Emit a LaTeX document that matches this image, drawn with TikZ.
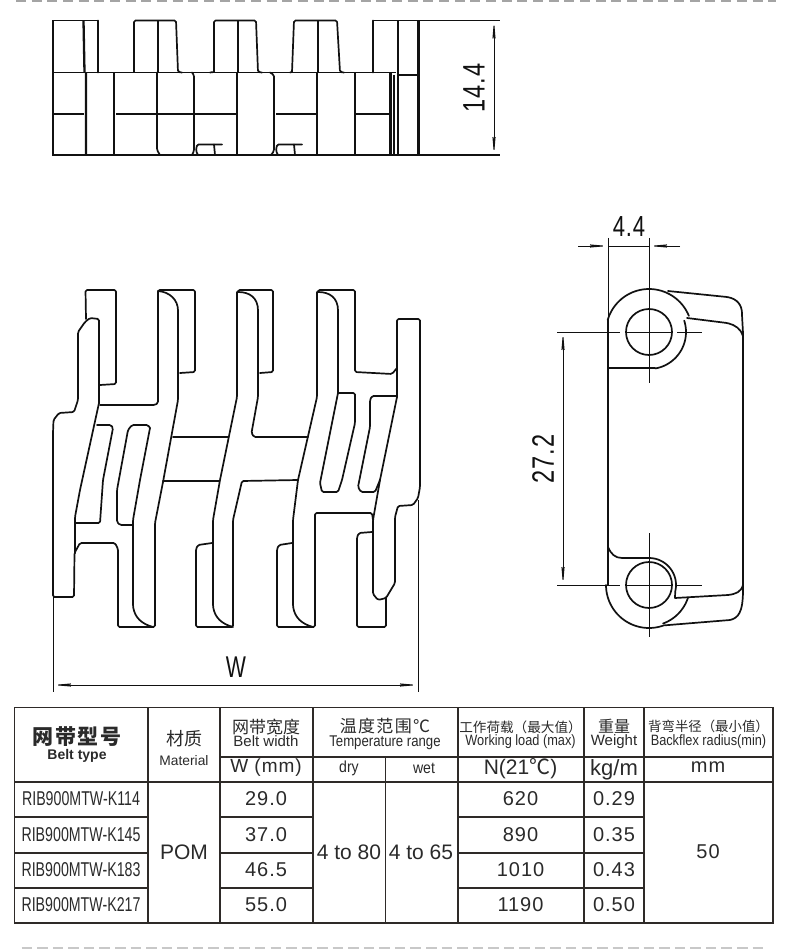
\documentclass[tikz,border=0pt]{standalone}
\usepackage{fontspec}
\usetikzlibrary{arrows.meta}
\setmainfont{Liberation Sans}
\newfontfamily\cn{Noto Sans CJK SC}
\newfontfamily\cnsp[LetterSpace=8]{Noto Sans CJK SC}
\newfontfamily\spc[LetterSpace=5]{Liberation Sans}
\newfontfamily\condA[FakeStretch=0.71]{Liberation Sans}
\newfontfamily\condB[FakeStretch=0.85]{Liberation Sans}
\newfontfamily\condC[FakeStretch=0.88]{Liberation Sans}
\newfontfamily\condD[FakeStretch=0.76,LetterSpace=3]{Liberation Sans}
\newcommand{\fs}[1]{\fontsize{#1}{#1}\selectfont}
\definecolor{ink}{HTML}{111111}
\definecolor{tabline}{HTML}{2E2A28}
\definecolor{txt}{HTML}{2A2A2A}
\definecolor{dashc}{HTML}{A4A4A4}
\definecolor{dashd}{HTML}{C8C8C8}
\tikzset{
  part/.style={draw=ink,line width=1.7pt,line join=round,line cap=round,rounded corners=1.5pt},
  heavy/.style={draw=ink,line width=2.3pt},
  thinl/.style={draw=ink,line width=1.3pt},
  dimline/.style={draw=ink,line width=0.9pt},
  dimarrow/.style={draw=ink,line width=0.9pt,-{Stealth[length=23pt,width=4pt]}},
  dimtext/.style={text=ink,inner sep=0pt,font=\condD\fs{31}},
  grid/.style={draw=tabline,line width=1.6pt},
  cell/.style={text=txt,inner sep=0pt,anchor=center,align=center},
  guide/.style={draw=dashc,line width=2.8pt,dash pattern=on 10pt off 5.67pt},
  guidelow/.style={draw=dashd,line width=1.6pt,dash pattern=on 10.5pt off 5.05pt},
}
\begin{document}
\begin{tikzpicture}[x=1pt,y=-1pt]
\useasboundingbox (0,0) rectangle (790,949);
\fill[white] (0,0) rectangle (790,949);
% guides
\draw[guide] (16,1) -- (776,1);
\draw[guidelow] (21.7,948) -- (764,948);

% ---------- top view
\draw[thinl] (53,20.5) -- (98,20.5) (53,20.5) -- (53,155) -- (500,155);
\draw[thinl] (373,20.5) -- (500,20.5);
\draw[thinl] (53,72.5) -- (396,72.5) (398,75) -- (418,75);
\draw[thinl] (53,114) -- (84,114) (116,114) -- (237,114) (276,114) -- (316,114) (356,114) -- (390,114);
\draw[part] (98,20.5) -- (98,72.5);
\draw[part] (134,72) -- (134,20.5) -- (176,20.5) -- (178,72) -- (182,72.5);
\draw[part] (214,72) -- (214,20.5) -- (256,20.5) -- (258,72) -- (262,72.5);
\draw[part] (292,72) -- (294,20.5) -- (337,20.5) -- (340,72) -- (344,72.5);
\draw[part] (210,72.5) -- (214,72);
\draw[part] (290,72.5) -- (292,72);
\draw[part] (373,20.5) -- (373,72.5);
\draw[heavy] (83.5,20.5) -- (84.5,72.5) (86,72.5) -- (86,155);
\draw[heavy] (158,20.5) -- (158,72.5) (238,20.5) -- (238,72.5) (318,20.5) -- (318,72.5);
\draw[heavy] (114,72.5) -- (114,155);
\draw[part] (157,72.5) -- (157,150) -- (160,155);
\draw[part] (192,72.5) -- (194,75) -- (194,151) -- (192,155);
\draw[part] (198,155) -- (196,151) -- (197,144.5) -- (222,144.5);
\draw[part] (214,144.5) -- (215,155);
\draw[thinl] (237,72.5) -- (237,155);
\draw[part] (270,72.5) -- (274,75) -- (274,151) -- (271,155);
\draw[part] (278,155) -- (276,151) -- (277,144.5) -- (302,144.5);
\draw[part] (294,144.5) -- (295,155);
\draw[thinl] (317,72.5) -- (317,155);
\draw[heavy] (355,72.5) -- (355,155);
\draw[heavy] (390.5,72.5) -- (390.5,155);
\draw[thinl] (394,75) -- (394,155);
\draw[heavy] (398,20.5) -- (398,155);
\draw[heavy] (418.5,20.5) -- (418.5,155);
\coordinate (dT) at (494,20.5); \coordinate (dB) at (494,155); \coordinate (dM) at (494,88);
\draw[dimarrow] (dM) -- (dT);
\draw[dimarrow] (dM) -- (dB);
\node[dimtext,rotate=90] (t144) at (474,88) {14.4};

% ---------- front view
\draw[part] (86,319) -- (85.5,290) -- (116,290) -- (116,384) -- (100,385);
\draw[part] (99,403) -- (99,319) -- (90,318) -- (85,322) -- (78,332) -- (78,400) -- (74,412) -- (59,413) -- (53.5,420) -- (53,433) -- (53,597) -- (74,597) -- (74.5,553) -- (80,543) -- (115,543) -- (118,549) -- (118,627) -- (155,627) -- (155,523) -- (163,482) -- (178,400) -- (178,312)
  .. controls (178,300) and (170,292) .. (158,291);
\draw[part] (99,403) -- (80,490) -- (75,517) -- (75,553);
\draw[part] (75,523) -- (100,523) -- (103,480) -- (113,428) -- (111,425) -- (97,425);
\draw[part] (150,428) -- (148,425) -- (132,425) -- (128,430) -- (117,490) -- (117,522) -- (120,525) -- (132,525);
\draw[part] (150,428) -- (140,480) -- (133,520) -- (133,606) .. controls (135,618) and (142,624) .. (153,627);
\draw[part] (158,292) -- (158,403) -- (155,405) -- (100,405);
\draw[part] (158,291) -- (158,290) -- (195,290) -- (195,372) -- (180,373);
\draw[part] (173,437) -- (228,437);
\draw[part] (163,481) -- (219,481);
% middle bodies
\draw[part] (237,292) -- (237,397) -- (220,480) -- (213,520) -- (213,606) .. controls (215,618) and (222,624) .. (233,627);
\draw[part] (212,543) -- (198,545) -- (196,549) -- (196,627) -- (233,627) -- (233,520) -- (242,481) -- (298,480);
\draw[part] (238,291) -- (238,290) -- (273,290) -- (273,372) -- (260,373);
\draw[part] (238,292) .. controls (250,292) and (258,298) .. (258,312) -- (258,397) -- (251.5,433) -- (254,437) -- (308,437);
\draw[part] (317,292) -- (317,397) -- (298,480) -- (293,520) -- (293,606) .. controls (295,618) and (302,624) .. (313,627);
\draw[part] (292,543) -- (279,545) -- (277,549) -- (277,627) -- (315,627) -- (315,513) -- (372,513) -- (373,520);
\draw[part] (318,291) -- (318,290) -- (355,290) -- (355,372) -- (392,374) -- (397,368);
\draw[part] (318,292) .. controls (330,292) and (338,298) .. (338,312) -- (338,393);
\draw[part] (338,393) -- (320,483) -- (322,492) -- (338,492) -- (342,480) -- (355,423) -- (355,393) -- (338,393);
\draw[part] (396,396) -- (372,396) -- (370,400) -- (370,427) -- (358,487) -- (361,492) -- (375,492) -- (380,480) -- (397,397);
\draw[part] (397,397) -- (397,319) -- (420,319) -- (420,487) -- (418,498) -- (413,505) -- (398,506) -- (395,517) -- (395,583) -- (386,598) -- (378,600) -- (373,594) -- (373,520) -- (380,480);
\draw[part] (372,532) -- (359,533) -- (357,537) -- (357,627) -- (386,627) -- (386,598);
\coordinate (wL) at (53,685); \coordinate (wR) at (418,685); \coordinate (wM) at (236,685);
\draw[dimline] (53,597) -- (53,692) (418.5,500) -- (418.5,692);
\draw[dimarrow] (wM) -- (wL);
\draw[dimarrow] (wM) -- (wR);
\node[text=ink,inner sep=0pt,font=\condA\fs{30}] (tw) at (236,667) {W};

% ---------- side view
\draw[dimline] (649,238) -- (649,383) (649,533) -- (649,637);
\draw[dimline] (557,332) -- (620,332) (626,332) -- (672,332) (677,332) -- (702,332);
\draw[dimline] (557,585) -- (620,585) (626,585) -- (672,585) (677,585) -- (702,585);
\draw[dimline] (608,238) -- (608,320);
\draw[part,rounded corners=0pt] (649,332) circle[radius=23];
\draw[part,rounded corners=0pt] (649,585) circle[radius=23];
\draw[part,rounded corners=0pt] plot[domain=196:338,samples=40] ({649+43*cos(\x)},{332+43*sin(\x)});
\draw[part,rounded corners=0pt] (608,368) -- (655,368) -- plot[domain=80:-18,samples=30] ({649+37*cos(\x)},{332+37*sin(\x)});
\draw[part] (668,291) -- (727,297) .. controls (737,299) and (742,305) .. (742,315) -- (743,333);
\draw[part] (687,318) -- (727,323) .. controls (735,325) and (741,329) .. (743,336);
\draw[heavy] (608,320) -- (608,585);
\draw[heavy] (743,333) -- (743,590);
\draw[part,rounded corners=0pt] plot[domain=180:70,samples=40] ({649+43*cos(\x)},{585+43*sin(\x)}) -- (730,620) .. controls (738,618) and (743,613) .. (743,590);
\draw[part,rounded corners=0pt] plot[domain=70:18,samples=20] ({649+41*cos(\x)},{585+41*sin(\x)});
\draw[part,rounded corners=0pt] (608,547) .. controls (611,554) and (615,558) .. (622,558) -- (649,558) -- plot[domain=-90:14,samples=30] ({649+27*cos(\x)},{585+27*sin(\x)}) -- (675,598) -- (728,595) .. controls (736,594) and (741,592) .. (743,585);
\coordinate (a1) at (608,246); \coordinate (a2) at (649,246);
\coordinate (a1o) at (578,246); \coordinate (a2o) at (680,246);
\draw[dimline] (a1) -- (a2);
\draw[dimarrow] (a1o) -- (a1);
\draw[dimarrow] (a2o) -- (a2);
\node[dimtext,font=\condD\fs{29}] (t44) at (629,227) {4.4};
\coordinate (b1) at (563,332); \coordinate (b2) at (563,585); \coordinate (bm) at (563,459);
\draw[dimarrow] (bm) -- (b1);
\draw[dimarrow] (bm) -- (b2);
\node[dimtext,rotate=90] (t272) at (543,459) {27.2};

% ---------- table
\draw[grid] (14.5,707.5) rectangle (773,923);
\foreach \xx in {148,220,313,457.7,583.7,644} \draw[grid] (\xx,707.5) -- (\xx,923);
\draw[grid] (385.6,757) -- (385.6,923);
\draw[grid] (220,757) -- (773,757);
\draw[grid] (14.5,781.7) -- (773,781.7);
\foreach \yy in {816.7,852.7,887.7} {
  \draw[grid] (14.5,\yy) -- (148,\yy);
  \draw[grid] (220,\yy) -- (313,\yy);
  \draw[grid] (457.7,\yy) -- (644,\yy);
}
% header
\node[cell,font=\cnsp\bfseries\fs{21}] (h1) at (77,737) {网带型号};
\node[cell,font=\bfseries\fs{14}] (h1e) at (77,755.5) {Belt type};
\node[cell,font=\cn\fs{18}] (h2) at (184,739) {材质};
\node[cell,font=\fs{13.8}] (h2e) at (184,761) {Material};
\node[cell,font=\cn\fs{17}] (h3) at (266,727) {网带宽度};
\node[cell,font=\fs{15}] (h3e) at (266,741) {Belt width};
\node[cell,font=\spc\fs{19}] (h3u) at (266,768) {W (mm)};
\node[cell,font=\cnsp\fs{17}] (h4) at (385,726) {温度范围℃};
\node[cell,font=\condB\fs{15.5}] (h4e) at (385,743) {Temperature range};
\node[cell,font=\condC\fs{16}] (h4a) at (349,768) {dry};
\node[cell,font=\condC\fs{16}] (h4b) at (424,768) {wet};
\node[cell,font=\cn\fs{13.6}] (h5) at (520.5,727) {工作荷载（最大值）};
\node[cell,font=\condB\fs{15}] (h5e) at (520.5,742) {Working load (max)};
\node[cell,font=\fs{21}] (h5u) at (520.5,769) {N(21{\cn ℃})};
\node[cell,font=\cn\fs{16}] (h6) at (614,726) {重量};
\node[cell,font=\fs{15}] (h6e) at (614,741.5) {Weight};
\node[cell,font=\fs{22}] (h6u) at (614,770) {kg/m};
\node[cell,font=\spc\fs{20}] (h7u) at (708,767) {mm};
\node[cell,font=\cn\fs{13.4}] (h7) at (708.5,726) {背弯半径（最小值）};
\node[cell,font=\condB\fs{15}] (h7e) at (708.5,742) {Backflex radius(min)};
% body
\node[cell,font=\condA\fs{20}] (r1) at (81,799) {RIB900MTW-K114};
\node[cell,font=\condA\fs{20}] (r2) at (81,834.5) {RIB900MTW-K145};
\node[cell,font=\condA\fs{20}] (r3) at (81,869.5) {RIB900MTW-K183};
\node[cell,font=\condA\fs{20}] (r4) at (81,904.5) {RIB900MTW-K217};
\node[cell,font=\fs{21}] (pom) at (184,852) {POM};
\node[cell,font=\spc\fs{20}] (w1) at (266,799) {29.0};
\node[cell,font=\spc\fs{20}] (w2) at (266,834.5) {37.0};
\node[cell,font=\spc\fs{20}] (w3) at (266,869.5) {46.5};
\node[cell,font=\spc\fs{20}] (w4) at (266,904.5) {55.0};
\node[cell,font=\fs{21}] (td) at (349,852) {4 to 80};
\node[cell,font=\fs{21}] (tw2) at (421,852) {4 to 65};
\node[cell,font=\spc\fs{20}] (l1) at (520.5,799) {620};
\node[cell,font=\spc\fs{20}] (l2) at (520.5,834.5) {890};
\node[cell,font=\spc\fs{20}] (l3) at (520.5,869.5) {1010};
\node[cell,font=\spc\fs{20}] (l4) at (520.5,904.5) {1190};
\node[cell,font=\spc\fs{20}] (g1) at (614,799) {0.29};
\node[cell,font=\spc\fs{20}] (g2) at (614,834.5) {0.35};
\node[cell,font=\spc\fs{20}] (g3) at (614,869.5) {0.43};
\node[cell,font=\spc\fs{20}] (g4) at (614,904.5) {0.50};
\node[cell,font=\spc\fs{20}] (bf) at (708,852) {50};
\end{tikzpicture}
\end{document}
